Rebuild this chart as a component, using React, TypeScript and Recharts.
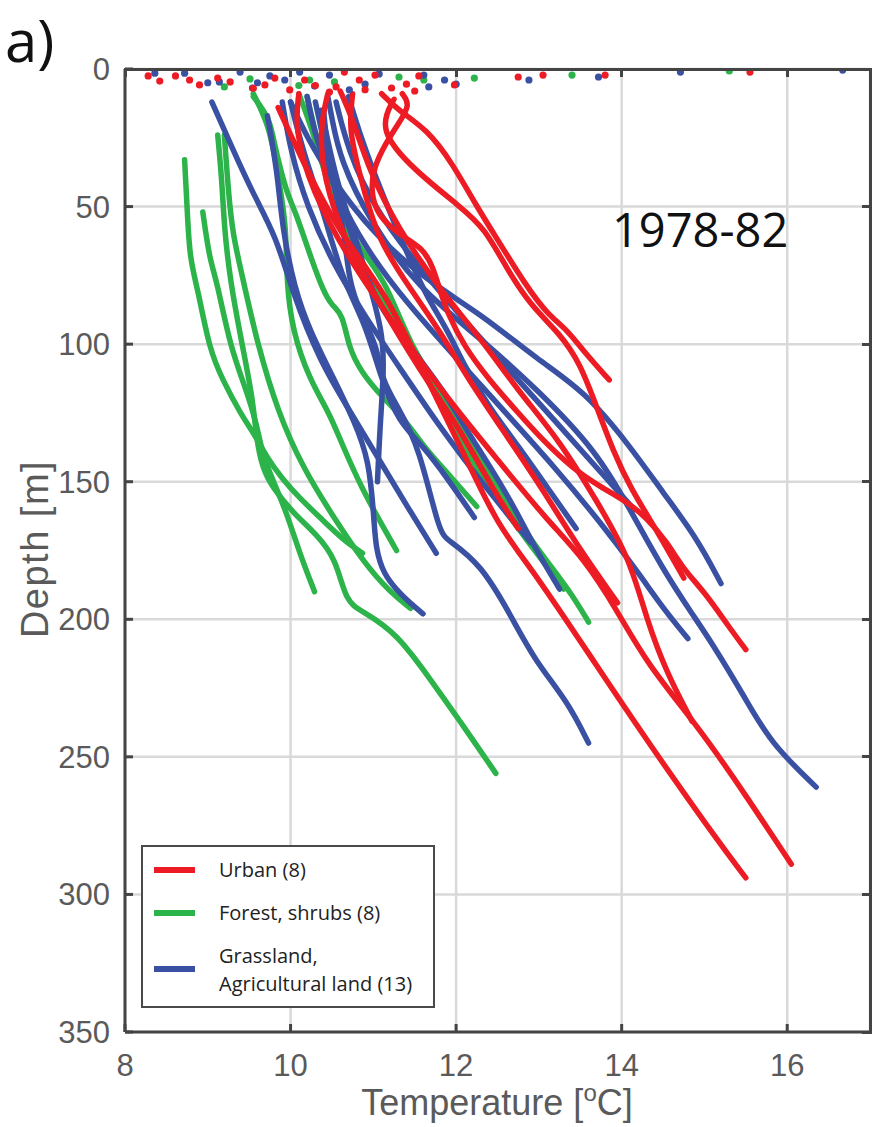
import React from 'react';
import { ScatterChart, Scatter, XAxis, YAxis, CartesianGrid } from 'recharts';

type P = [number, number]; // [temperature °C, depth m]

const xTicks = [8, 10, 12, 14, 16];
const yTicks = [0, 50, 100, 150, 200, 250, 300, 350];
const xDomain: [number, number] = [8, 17];
const yDomain: [number, number] = [0, 350];
const panelLabel = 'a)';
const periodLabel = '1978-82';
const yAxisTitle = 'Depth [m]';
const legendUrban = 'Urban (8)';
const legendForest = 'Forest, shrubs (8)';
const legendGrass1 = 'Grassland,';
const legendGrass2 = 'Agricultural land (13)';

// Urban profiles (red)
const urbanProfiles: P[][] = [
  [[9.85, 14], [10.2, 37], [10.6, 60], [11.15, 81], [11.65, 113], [12.1, 140], [12.5, 166], [12.95, 183], [13.7, 217], [14.35, 246], [15.1, 278], [15.5, 294]],
  [[10.1, 9], [10.05, 22], [10.25, 44], [10.7, 69], [11.3, 95], [11.9, 120], [12.5, 142], [13.1, 164], [13.55, 178], [13.95, 197], [14.3, 216], [14.95, 240], [15.5, 264], [16.05, 289]],
  [[11.1, 9], [11.3, 15], [11.65, 22], [11.95, 34], [12.25, 50], [12.5, 62], [12.85, 79], [13.1, 89], [13.35, 95], [13.55, 103], [13.85, 113]],
  [[11.25, 11], [11.05, 22], [11.5, 37], [12.05, 50], [12.35, 58], [12.6, 72], [12.9, 86], [13.25, 96], [13.5, 107], [13.7, 123], [13.9, 139], [14.1, 152], [14.45, 169], [14.75, 185]],
  [[11.35, 9], [11.45, 13], [11.3, 20], [11.15, 27], [11.0, 36], [10.97, 45], [11.05, 53], [11.3, 60], [11.6, 65], [11.72, 72], [11.8, 80], [11.9, 89], [12.1, 101], [12.4, 113], [12.75, 125], [13.05, 135], [13.4, 145], [13.75, 152], [14.05, 157], [14.3, 163], [14.55, 172], [14.75, 182], [15.0, 190], [15.3, 203], [15.5, 211]],
  [[10.75, 9], [10.7, 22], [10.85, 40], [11.05, 62], [11.45, 80], [11.8, 95], [12.15, 113], [12.65, 135], [13.05, 153], [13.5, 175], [13.95, 194]],
  [[10.45, 9], [10.35, 22], [10.4, 40], [10.65, 62], [11.05, 84], [11.55, 109], [12.05, 131], [12.45, 153], [12.75, 167]],
  [[10.6, 8], [10.75, 18], [10.95, 37], [11.3, 58], [11.8, 80], [12.3, 98], [12.75, 117], [13.25, 135], [13.7, 157], [14.1, 178], [14.3, 200], [14.55, 220], [14.85, 237]],
];

// Forest, shrubs profiles (green)
const forestProfiles: P[][] = [
  [[8.72, 33], [8.75, 50], [8.78, 69], [8.88, 80], [9.02, 102], [9.18, 113], [9.39, 125], [9.59, 134], [9.71, 141], [9.9, 149], [10.11, 156], [10.39, 164], [10.63, 171], [10.87, 176]],
  [[8.94, 52], [9.02, 69], [9.11, 77], [9.27, 101], [9.47, 117], [9.59, 129], [9.66, 140], [9.78, 149], [9.95, 161], [10.11, 176], [10.29, 190]],
  [[9.12, 24], [9.17, 40], [9.2, 58], [9.27, 77], [9.42, 101], [9.54, 119], [9.59, 135], [9.66, 145], [9.78, 152], [10.02, 161], [10.31, 169], [10.55, 178], [10.67, 194], [10.87, 197], [11.28, 205], [11.67, 221], [12.07, 238], [12.48, 256]],
  [[9.55, 9], [9.75, 21], [9.85, 39], [9.95, 57], [9.95, 77], [10.02, 95], [10.23, 113], [10.47, 125], [10.63, 137], [10.87, 153], [11.11, 166], [11.28, 175]],
  [[9.55, 10], [9.75, 18], [9.8, 27], [9.95, 45], [10.05, 51], [10.25, 69], [10.4, 81], [10.5, 86], [10.63, 89], [10.7, 101], [10.85, 110], [11.1, 119], [11.4, 128], [11.6, 137], [11.9, 147], [12.25, 159]],
  [[10.1, 9], [10.3, 25], [10.5, 48], [10.85, 66], [11.15, 77], [11.45, 101], [11.85, 119], [12.1, 131], [12.35, 144], [12.65, 159], [12.9, 171], [13.15, 181], [13.4, 191], [13.6, 201]],
  [[9.2, 24], [9.25, 45], [9.3, 60], [9.43, 77], [9.6, 100], [9.85, 125], [10.15, 145], [10.5, 162], [10.9, 180], [11.2, 190], [11.45, 196]],
  [[10.2, 10], [10.35, 30], [10.6, 55], [10.95, 75], [11.3, 95], [11.7, 115], [12.05, 135], [12.45, 155], [12.9, 173], [13.3, 189]],
];

// Grassland, agricultural land profiles (blue)
const grassProfiles: P[][] = [
  [[10.45, 10], [10.5, 18], [10.6, 33], [10.95, 55], [11.55, 80], [12.3, 98], [13.0, 117], [13.7, 139], [14.1, 160], [14.5, 182], [14.85, 198], [15.1, 209], [15.5, 229], [15.8, 245], [16.35, 261]],
  [[10.0, 12], [10.2, 25], [10.5, 40], [11.0, 60], [11.65, 77], [12.3, 89], [13.0, 106], [13.55, 117], [14.1, 137], [14.5, 154], [14.9, 170], [15.2, 187]],
  [[10.2, 10], [10.3, 25], [10.55, 45], [10.9, 65], [11.4, 85], [12.0, 105], [12.6, 125], [13.2, 145], [13.75, 165], [14.2, 183], [14.5, 196], [14.8, 207]],
  [[10.3, 12], [10.45, 33], [10.65, 58], [10.7, 77], [10.85, 89], [11.05, 101], [11.1, 113], [11.3, 123], [11.55, 137], [11.8, 169], [11.9, 171], [12.3, 180], [12.65, 198], [12.95, 215], [13.35, 230], [13.6, 245]],
  [[9.05, 12], [9.27, 27], [9.54, 45], [9.83, 61], [10.02, 81], [10.35, 106], [10.71, 124], [11.07, 142], [11.43, 160], [11.76, 176]],
  [[9.72, 17], [9.84, 37], [9.9, 58], [10.05, 80], [10.23, 95], [10.53, 113], [10.77, 128], [10.95, 142], [11.01, 164], [11.05, 184], [11.6, 198]],
  [[10.37, 15], [10.47, 29], [10.59, 44], [10.77, 60], [10.93, 76], [11.11, 95], [11.13, 109], [11.08, 130], [11.05, 150]],
  [[10.7, 10], [10.85, 25], [11.1, 45], [11.45, 70], [11.65, 83], [11.9, 95], [12.1, 108], [12.4, 123], [12.75, 137], [13.1, 152], [13.45, 167]],
  [[10.4, 15], [10.45, 33], [10.7, 58], [11.05, 86], [11.3, 95], [11.55, 105], [11.85, 117], [12.1, 130], [12.4, 144], [12.7, 159], [12.95, 174], [13.25, 189]],
  [[10.0, 12], [10.15, 30], [10.4, 52], [10.63, 77], [10.9, 92], [11.1, 113], [11.3, 128], [11.6, 137], [11.9, 149], [12.22, 163]],
  [[10.55, 12], [10.7, 30], [11.0, 50], [11.5, 70], [12.0, 88], [12.6, 108], [13.2, 128], [13.7, 145], [14.15, 160]],
  [[9.9, 12], [10.0, 30], [10.2, 50], [10.5, 70], [10.9, 90], [11.35, 110], [11.8, 130], [12.3, 150], [12.9, 172]],
];

// Shallow (near-surface) readings
const urbanSurface: P[] = [
  [8.28, 2.5], [8.42, 4.4], [8.61, 2.5], [8.78, 4.0], [8.9, 5.8], [9.12, 3.3], [9.27, 4.7], [9.69, 5.8], [9.81, 3.3], [9.99, 7.6],
  [10.17, 4.0], [10.47, 8.4], [10.65, 1.1], [10.83, 4.0], [11.02, 2.2], [11.22, 6.9], [11.55, 2.5], [11.98, 5.8], [12.75, 2.9],
  [13.05, 2.2], [13.8, 2.2], [15.55, 1.1], [10.55, 6.5], [10.9, 7.5], [11.4, 5.5], [11.5, 8.0], [10.3, 6.0], [9.55, 7.0],
];
const forestSurface: P[] = [
  [9.51, 3.6], [10.23, 4.0], [10.53, 4.7], [11.31, 2.9], [11.61, 4.0], [12.22, 3.3], [13.4, 2.2], [15.3, 0.7], [9.2, 6.5], [10.1, 6.0],
];
const grassSurface: P[] = [
  [8.36, 1.5], [8.72, 1.5], [9.14, 4.7], [9.39, 1.1], [9.54, 6.9], [9.75, 2.5], [9.93, 4.0], [10.11, 1.1], [10.29, 6.2], [10.47, 2.2],
  [10.71, 7.6], [11.07, 1.8], [11.61, 2.2], [11.67, 6.5], [11.86, 4.0], [12.0, 5.5], [12.88, 4.0], [13.72, 2.9], [14.71, 1.1], [16.67, 0.4],
  [9.0, 5.0], [9.6, 5.0], [10.9, 5.5],
];

const RED = '#ed1c24';
const GREEN = '#2cb34a';
const BLUE = '#3a51a3';
const AXIS = '#444444';
const LABEL = '#5a5a5a';
const FONT = '"Liberation Sans", Arial, sans-serif';
const TITLE_FONT = '"Open Sans", "Noto Sans", sans-serif';

// chart layout
const CHART_W = 875;
const CHART_H = 1127;
const MARGIN = { top: 69, right: 5, bottom: 35, left: 45 };
const Y_AXIS_W = 80;
const X_AXIS_H = 60;
const PLOT_LEFT = MARGIN.left + Y_AXIS_W;
const PLOT_TOP = MARGIN.top;
const PLOT_W = CHART_W - MARGIN.right - PLOT_LEFT;
const PLOT_H = CHART_H - MARGIN.bottom - X_AXIS_H - PLOT_TOP;
const TICK_LEN = 8;
const EDGE = 3;

const toRows = (pts: P[]) => pts.map(([t, d]) => ({ t, d }));

const NoDot = () => <g />;
const makeDot = (color: string) => (props: any) =>
  props.cx == null ? <g /> : <circle cx={props.cx} cy={props.cy} r={3.6} fill={color} />;

function profileSeries(profiles: P[][], color: string, key: string) {
  return profiles.map((p, i) => (
    <Scatter
      key={`${key}-${i}`}
      data={toRows(p)}
      fill={color}
      line={{ stroke: color, strokeWidth: 5.5, strokeLinecap: 'round', strokeLinejoin: 'round' } as any}
      lineType="joint"
      lineJointType="basis"
      shape={NoDot}
      isAnimationActive={false}
      legendType="none"
    />
  ));
}

// Box frame (top and right edges with inward ticks, like the MATLAB axes box)
function Frame() {
  const fx = (t: number) => PLOT_LEFT + ((t - xDomain[0]) / (xDomain[1] - xDomain[0])) * PLOT_W;
  const fy = (d: number) => PLOT_TOP + ((d - yDomain[0]) / (yDomain[1] - yDomain[0])) * PLOT_H;
  const base: React.CSSProperties = { position: 'absolute', background: AXIS, pointerEvents: 'none', zIndex: 5 };
  return (
    <>
      {/* top edge */}
      <div style={{ ...base, left: PLOT_LEFT - EDGE / 2, top: PLOT_TOP - EDGE / 2, width: PLOT_W + EDGE, height: EDGE }} />
      {/* right edge */}
      <div style={{ ...base, left: PLOT_LEFT + PLOT_W - EDGE / 2, top: PLOT_TOP - EDGE / 2, width: EDGE, height: PLOT_H + EDGE }} />
      {xTicks.map((t) => (
        <div key={`tt-${t}`} style={{ ...base, left: fx(t) - EDGE / 2, top: PLOT_TOP, width: EDGE, height: TICK_LEN }} />
      ))}
      {yTicks.map((d) => (
        <div key={`rt-${d}`} style={{ ...base, left: PLOT_LEFT + PLOT_W - TICK_LEN, top: fy(d) - EDGE / 2, width: TICK_LEN, height: EDGE }} />
      ))}
    </>
  );
}

export default function App() {
  return (
    <div
      style={{
        position: 'absolute',
        left: 0,
        top: 0,
        width: CHART_W,
        height: CHART_H,
        background: '#ffffff',
        fontFamily: FONT,
      }}
    >
      <ScatterChart width={CHART_W} height={CHART_H} margin={MARGIN}>
        <CartesianGrid stroke="#d9d9d9" strokeWidth={2.5} />
        <XAxis
          type="number"
          dataKey="t"
          domain={xDomain}
          ticks={xTicks}
          interval={0}
          allowDataOverflow
          height={X_AXIS_H}
          tickSize={-TICK_LEN}
          tickMargin={30}
          tick={{ fill: LABEL, fontSize: 31, fontFamily: FONT }}
          axisLine={{ stroke: AXIS, strokeWidth: EDGE }}
          tickLine={{ stroke: AXIS, strokeWidth: EDGE }}
        />
        <YAxis
          type="number"
          dataKey="d"
          reversed
          domain={yDomain}
          ticks={yTicks}
          interval={0}
          allowDataOverflow
          width={Y_AXIS_W}
          tickSize={-TICK_LEN}
          tickMargin={23}
          tick={{ fill: LABEL, fontSize: 31, fontFamily: FONT }}
          axisLine={{ stroke: AXIS, strokeWidth: EDGE }}
          tickLine={{ stroke: AXIS, strokeWidth: EDGE }}
        />
        {profileSeries(forestProfiles, GREEN, 'forest')}
        {profileSeries(grassProfiles, BLUE, 'grass')}
        {profileSeries(urbanProfiles, RED, 'urban')}
        <Scatter data={toRows(forestSurface)} fill={GREEN} shape={makeDot(GREEN)} isAnimationActive={false} legendType="none" />
        <Scatter data={toRows(grassSurface)} fill={BLUE} shape={makeDot(BLUE)} isAnimationActive={false} legendType="none" />
        <Scatter data={toRows(urbanSurface)} fill={RED} shape={makeDot(RED)} isAnimationActive={false} legendType="none" />
      </ScatterChart>

      <Frame />

      {/* panel label */}
      <div style={{ position: 'absolute', left: 5, top: 0, fontSize: 58, lineHeight: 'normal', fontFamily: TITLE_FONT, color: '#111' }}>
        {panelLabel}
      </div>

      {/* period label */}
      <div style={{ position: 'absolute', left: 612, top: 206, fontSize: 47, lineHeight: 1, fontFamily: TITLE_FONT, color: '#111', whiteSpace: 'nowrap' }}>
        {periodLabel}
      </div>

      {/* y axis title */}
      <div
        style={{
          position: 'absolute',
          left: 35,
          top: 549,
          transform: 'translate(-50%, -50%) rotate(-90deg)',
          fontSize: 38,
          letterSpacing: 1.5,
          lineHeight: 1,
          color: LABEL,
          whiteSpace: 'nowrap',
        }}
      >
        {yAxisTitle}
      </div>

      {/* x axis title */}
      <div
        style={{
          position: 'absolute',
          left: 497,
          top: 1090,
          transform: 'translateX(-50%)',
          fontSize: 36,
          lineHeight: '26px',
          color: LABEL,
          whiteSpace: 'nowrap',
        }}
      >
        Temperature [<sup style={{ fontSize: 24, verticalAlign: 'baseline', position: 'relative', top: -14, lineHeight: 0 }}>o</sup>C]
      </div>

      {/* legend */}
      <div
        style={{
          position: 'absolute',
          left: 141,
          top: 845,
          width: 290,
          height: 159,
          border: '2px solid #4a4a4a',
          background: '#ffffff',
          fontFamily: TITLE_FONT,
          fontSize: 20,
          color: '#222',
          zIndex: 6,
        }}
      >
        <div style={{ position: 'absolute', left: 11, top: 20, width: 41, height: 6, background: RED }} />
        <div style={{ position: 'absolute', left: 76, top: 10, lineHeight: '26px', whiteSpace: 'nowrap' }}>{legendUrban}</div>
        <div style={{ position: 'absolute', left: 11, top: 63, width: 41, height: 6, background: GREEN }} />
        <div style={{ position: 'absolute', left: 76, top: 53, lineHeight: '26px', whiteSpace: 'nowrap' }}>{legendForest}</div>
        <div style={{ position: 'absolute', left: 11, top: 119, width: 41, height: 6, background: BLUE }} />
        <div style={{ position: 'absolute', left: 76, top: 95, lineHeight: '28px', whiteSpace: 'nowrap' }}>
          {legendGrass1}
          <br />
          {legendGrass2}
        </div>
      </div>
    </div>
  );
}
